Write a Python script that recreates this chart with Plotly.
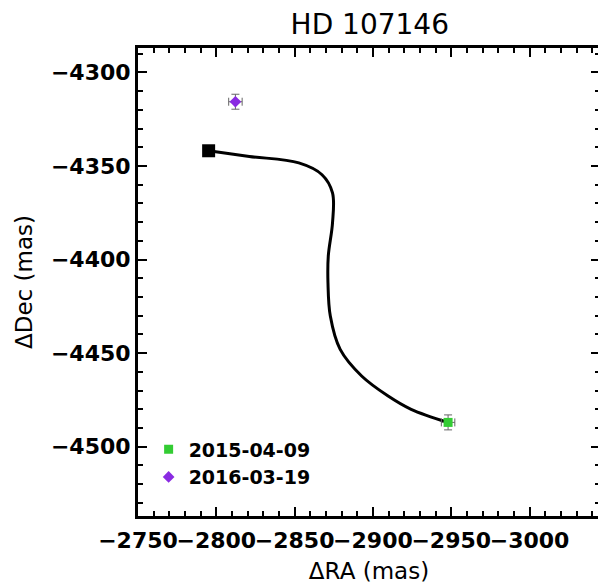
import plotly.graph_objects as go

# Track (predicted background-star path)
track_ra = [-2795.1, -2821.1, -2852.7, -2867.5, -2874.2, -2874.2, -2871.5, -2871.3,
            -2872.8, -2879.1, -2892.8, -2909.7, -2924.4, -2948.0]
track_dec = [-4341.9, -4344.9, -4348.4, -4354.7, -4364.4, -4380.4, -4398.2, -4412.4,
             -4430.2, -4448.0, -4462.2, -4472.9, -4480.0, -4487.0]

# Observations
epochs = ["2015-04-09", "2016-03-19"]
obs_ra = [-2948.0, -2812.2]
obs_dec = [-4487.0, -4315.7]
obs_ra_err = [4.3, 4.3]
obs_dec_err = [4.0, 4.0]
obs_colors = ["#33cc33", "#8a2be2"]
obs_symbols = ["square", "diamond"]

x_ticks = [-2750, -2800, -2850, -2900, -2950, -3000]
y_ticks = [-4300, -4350, -4400, -4450, -4500]

fig = go.Figure()

fig.add_trace(go.Scatter(x=track_ra, y=track_dec, mode="lines",
                         line=dict(color="black", width=3, shape="spline", smoothing=1.0),
                         showlegend=False, hoverinfo="skip"))
fig.add_trace(go.Scatter(x=[track_ra[0]], y=[track_dec[0]], mode="markers",
                         marker=dict(symbol="square", size=13, color="black"),
                         showlegend=False))

for i in range(len(epochs)):
    fig.add_trace(go.Scatter(
        x=[obs_ra[i]], y=[obs_dec[i]], mode="markers", name=epochs[i],
        marker=dict(symbol=obs_symbols[i], size=9, color=obs_colors[i]),
        error_x=dict(type="data", array=[obs_ra_err[i]], color="#666666", thickness=1, width=4),
        error_y=dict(type="data", array=[obs_dec_err[i]], color="#666666", thickness=1, width=4),
    ))

font_family = "DejaVu Sans"
axis_common = dict(
    showgrid=False, zeroline=False, showline=True, linecolor="black", linewidth=3,
    mirror="ticks", ticks="inside", ticklen=9, tickwidth=2, tickcolor="black",
    minor=dict(ticks="inside", ticklen=5, tickwidth=2, tickcolor="black", dtick=10),
    tickfont=dict(family=font_family, size=22, color="black", weight="bold"),
    tickangle=0,
)

fig.update_layout(
    width=598, height=576,
    paper_bgcolor="white", plot_bgcolor="white",
    margin=dict(l=130, r=3, t=40, b=68),
    title=dict(text="HD 107146", x=0.605, xanchor="center", y=1 - 16 / 576, yanchor="middle",
               font=dict(family=font_family, size=28, color="black")),
    xaxis=dict(range=[-2750, -3045], tickvals=x_ticks, ticklabelstandoff=3,
               title=dict(text="ΔRA (mas)", font=dict(family=font_family, size=23, color="black"), standoff=11),
               **axis_common),
    yaxis=dict(range=[-4537, -4287], tickvals=y_ticks,
               title=dict(text="ΔDec (mas)", font=dict(family=font_family, size=23, color="black"), standoff=12),
               **axis_common),
    legend=dict(x=0.023, y=0.183, xanchor="left", yanchor="top", bgcolor="rgba(0,0,0,0)",
                font=dict(family=font_family, size=19, color="black", weight="bold"),
                itemwidth=30, tracegroupgap=2),
    showlegend=True,
)

fig.write_html("out.html")
